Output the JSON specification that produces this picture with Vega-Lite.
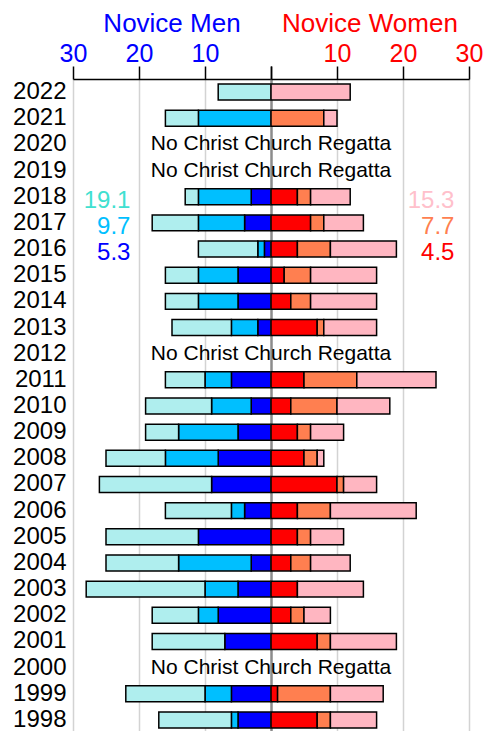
{
  "$schema": "https://vega.github.io/schema/vega-lite/v6.json",
  "padding": {"left": 12, "top": 11, "right": 0, "bottom": 0},
  "background": "white",
  "spacing": 0,
  "bounds": "flush",
  "config": {
    "view": {"stroke": null},
    "font": "Liberation Sans",
    "axis": {"labelFont": "Liberation Sans", "domainColor": "black", "tickColor": "black", "domainWidth": 1.5, "tickWidth": 1.5},
    "title": {"font": "Liberation Sans", "fontSize": 26, "fontWeight": "normal", "anchor": "middle", "offset": 4}
  },
  "datasets": {
    "rows": [
      {"year": "2022", "m1": 0, "m2": 0, "m3": 8, "w1": 0, "w2": 0, "w3": 12},
      {"year": "2021", "m1": 0, "m2": 11, "m3": 5, "w1": 0, "w2": 8, "w3": 2},
      {"year": "2018", "m1": 3, "m2": 8, "m3": 2, "w1": 4, "w2": 2, "w3": 6},
      {"year": "2017", "m1": 4, "m2": 7, "m3": 7, "w1": 6, "w2": 2, "w3": 6},
      {"year": "2016", "m1": 1, "m2": 1, "m3": 9, "w1": 4, "w2": 5, "w3": 10},
      {"year": "2015", "m1": 5, "m2": 6, "m3": 5, "w1": 2, "w2": 4, "w3": 10},
      {"year": "2014", "m1": 5, "m2": 6, "m3": 5, "w1": 3, "w2": 3, "w3": 10},
      {"year": "2013", "m1": 2, "m2": 4, "m3": 9, "w1": 7, "w2": 1, "w3": 8},
      {"year": "2011", "m1": 6, "m2": 4, "m3": 6, "w1": 5, "w2": 8, "w3": 12},
      {"year": "2010", "m1": 3, "m2": 6, "m3": 10, "w1": 3, "w2": 7, "w3": 8},
      {"year": "2009", "m1": 5, "m2": 9, "m3": 5, "w1": 4, "w2": 2, "w3": 5},
      {"year": "2008", "m1": 8, "m2": 8, "m3": 9, "w1": 5, "w2": 2, "w3": 1},
      {"year": "2007", "m1": 9, "m2": 0, "m3": 17, "w1": 10, "w2": 1, "w3": 5},
      {"year": "2006", "m1": 4, "m2": 2, "m3": 10, "w1": 4, "w2": 5, "w3": 13},
      {"year": "2005", "m1": 11, "m2": 0, "m3": 14, "w1": 4, "w2": 2, "w3": 5},
      {"year": "2004", "m1": 3, "m2": 11, "m3": 11, "w1": 3, "w2": 3, "w3": 6},
      {"year": "2003", "m1": 5, "m2": 5, "m3": 18, "w1": 4, "w2": 0, "w3": 10},
      {"year": "2002", "m1": 8, "m2": 3, "m3": 7, "w1": 3, "w2": 2, "w3": 4},
      {"year": "2001", "m1": 7, "m2": 0, "m3": 11, "w1": 7, "w2": 2, "w3": 10},
      {"year": "1999", "m1": 6, "m2": 4, "m3": 12, "w1": 1, "w2": 8, "w3": 8},
      {"year": "1998", "m1": 5, "m2": 1, "m3": 11, "w1": 7, "w2": 2, "w3": 7}
    ],
    "none": [{"year": "2020"}, {"year": "2019"}, {"year": "2012"}, {"year": "2000"}],
    "avgM": [{"year": "2018", "label": "19.1", "k": "a"}, {"year": "2017", "label": "9.7", "k": "b"}, {"year": "2016", "label": "5.3", "k": "c"}],
    "avgW": [{"year": "2018", "label": "15.3", "k": "a"}, {"year": "2017", "label": "7.7", "k": "b"}, {"year": "2016", "label": "4.5", "k": "c"}]
  },
  "hconcat": [
    {
      "width": 198,
      "height": 654,
      "title": {"text": "Novice Men", "color": "blue"},
      "resolve": {"scale": {"color": "independent"}},
      "layer": [
        {
          "data": {"name": "rows"},
          "transform": [{"fold": ["m1", "m2", "m3"]}, {"filter": "datum.value > 0"}],
          "mark": {"type": "bar", "stroke": "black", "strokeWidth": 1.5},
          "encoding": {
            "x": {"field": "value", "type": "quantitative", "stack": "zero",
              "scale": {"domain": [0, 30], "reverse": true, "nice": false},
              "axis": {"orient": "top", "title": null, "values": [0, 5, 10, 15, 20, 25, 30],
                "labelExpr": "datum.value % 10 === 0 && datum.value > 0 ? datum.label : ''",
                "labelFlush": false, "labelOverlap": false, "labelColor": "blue", "labelFontSize": 25, "labelPadding": 0,
                "tickSize": {"condition": {"test": "datum.value % 10 === 0", "value": 13}, "value": 6},
                "grid": true,
                "gridColor": {"condition": {"test": "datum.value === 0", "value": "#8c8c8c"}, "value": "#d3d3d3"},
                "gridWidth": {"condition": {"test": "datum.value === 0", "value": 2}, "value": 1.5},
                "gridOpacity": {"condition": {"test": "datum.value % 10 === 0", "value": 1}, "value": 0}}},
            "y": {"field": "year", "type": "ordinal",
              "scale": {"domain": ["2022","2021","2020","2019","2018","2017","2016","2015","2014","2013","2012","2011","2010","2009","2008","2007","2006","2005","2004","2003","2002","2001","2000","1999","1998"], "paddingInner": 0.39, "paddingOuter": 0.195},
              "axis": {"title": null, "ticks": false, "domain": false, "labelFontSize": 24, "labelPadding": 7, "labelColor": "black"}},
            "color": {"field": "key", "type": "nominal", "scale": {"domain": ["m1", "m2", "m3"], "range": ["blue", "deepskyblue", "paleturquoise"]}, "legend": null},
            "order": {"field": "key"}
          }
        },
        {
          "data": {"name": "avgM"},
          "mark": {"type": "text", "align": "right", "baseline": "middle", "fontSize": 24, "dy": 4},
          "encoding": {
            "x": {"datum": 21.3, "type": "quantitative"},
            "y": {"field": "year", "type": "ordinal"},
            "text": {"field": "label"},
            "color": {"field": "k", "type": "nominal", "scale": {"domain": ["a", "b", "c"], "range": ["turquoise", "deepskyblue", "blue"]}, "legend": null}
          }
        }
      ]
    },
    {
      "width": 198,
      "height": 654,
      "title": {"text": "Novice Women", "color": "red"},
      "resolve": {"scale": {"color": "independent"}},
      "layer": [
        {
          "data": {"name": "rows"},
          "transform": [{"fold": ["w1", "w2", "w3"]}, {"filter": "datum.value > 0"}],
          "mark": {"type": "bar", "stroke": "black", "strokeWidth": 1.5},
          "encoding": {
            "x": {"field": "value", "type": "quantitative", "stack": "zero",
              "scale": {"domain": [0, 30], "nice": false},
              "axis": {"orient": "top", "title": null, "values": [0, 5, 10, 15, 20, 25, 30],
                "labelExpr": "datum.value % 10 === 0 && datum.value > 0 ? datum.label : ''",
                "labelFlush": false, "labelOverlap": false, "labelColor": "red", "labelFontSize": 25, "labelPadding": 0,
                "tickSize": {"condition": {"test": "datum.value % 10 === 0", "value": 13}, "value": 6},
                "grid": true,
                "gridColor": {"condition": {"test": "datum.value === 0", "value": "#8c8c8c"}, "value": "#d3d3d3"},
                "gridWidth": {"condition": {"test": "datum.value === 0", "value": 2}, "value": 1.5},
                "gridOpacity": {"condition": {"test": "datum.value % 10 === 0", "value": 1}, "value": 0}}},
            "y": {"field": "year", "type": "ordinal",
              "scale": {"domain": ["2022","2021","2020","2019","2018","2017","2016","2015","2014","2013","2012","2011","2010","2009","2008","2007","2006","2005","2004","2003","2002","2001","2000","1999","1998"], "paddingInner": 0.39, "paddingOuter": 0.195},
              "axis": null},
            "color": {"field": "key", "type": "nominal", "scale": {"domain": ["w1", "w2", "w3"], "range": ["red", "coral", "lightpink"]}, "legend": null},
            "order": {"field": "key"}
          }
        },
        {
          "data": {"name": "avgW"},
          "mark": {"type": "text", "align": "right", "baseline": "middle", "fontSize": 24, "dy": 4},
          "encoding": {
            "x": {"datum": 27.8, "type": "quantitative"},
            "y": {"field": "year", "type": "ordinal"},
            "text": {"field": "label"},
            "color": {"field": "k", "type": "nominal", "scale": {"domain": ["a", "b", "c"], "range": ["pink", "coral", "red"]}, "legend": null}
          }
        },
        {
          "data": {"name": "none"},
          "mark": {"type": "text", "align": "center", "baseline": "middle", "fontSize": 21, "color": "black"},
          "encoding": {
            "x": {"datum": 0, "type": "quantitative"},
            "y": {"field": "year", "type": "ordinal"},
            "text": {"value": "No Christ Church Regatta"}
          }
        }
      ]
    }
  ]
}
